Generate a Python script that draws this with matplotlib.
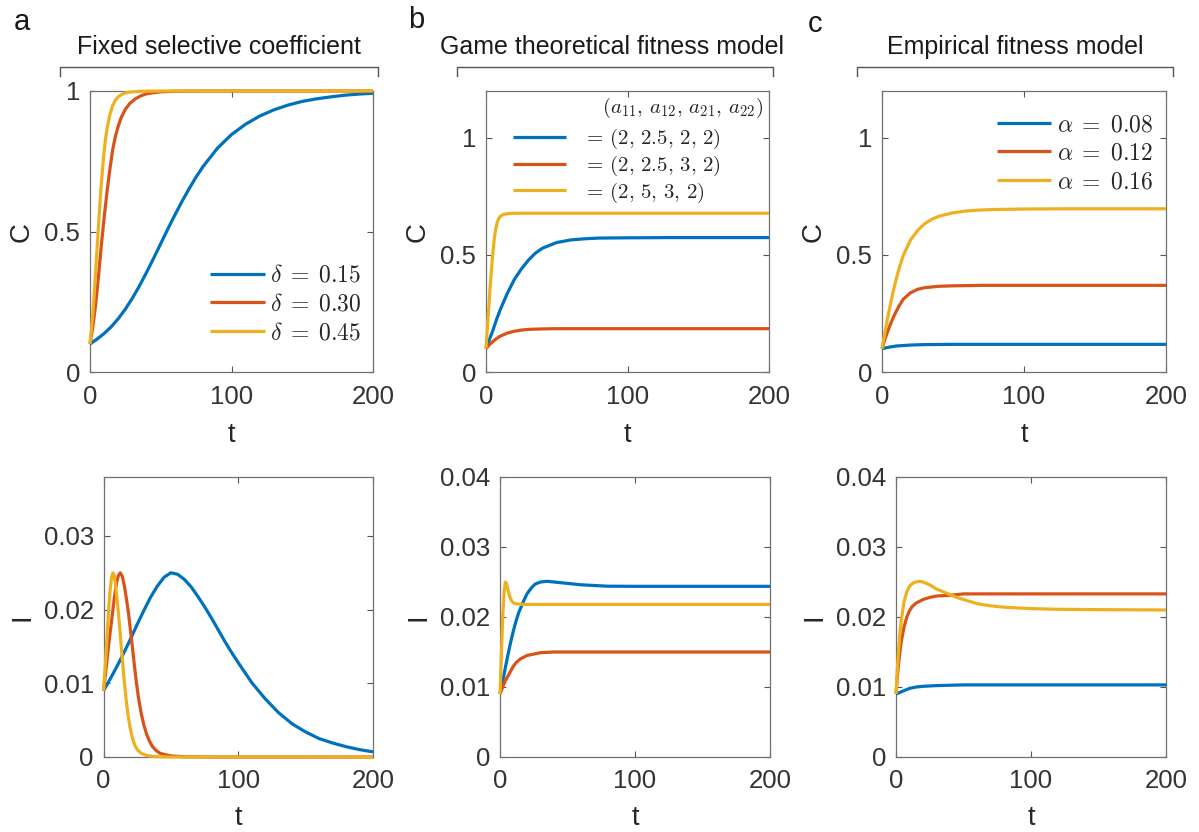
import matplotlib
matplotlib.use('Agg')
import matplotlib.pyplot as plt
from matplotlib.lines import Line2D

plt.rcParams['font.family'] = ['Liberation Sans', 'DejaVu Sans']
plt.rcParams['mathtext.fontset'] = 'cm'

# ---------------- data ----------------
# Panel a: fixed selective coefficient
a_blue_tC = [0, 5, 10, 15, 20, 25, 30, 35, 40, 45, 50, 55, 60, 65, 70, 75, 80, 90, 100,
             110, 120, 130, 140, 150, 160, 170, 180, 190, 200]
a_blue_C = [0.100, 0.117, 0.137, 0.161, 0.190, 0.224, 0.263, 0.307, 0.355, 0.405, 0.457,
            0.509, 0.559, 0.607, 0.652, 0.694, 0.732, 0.796, 0.845, 0.882, 0.911, 0.933,
            0.950, 0.963, 0.972, 0.979, 0.985, 0.989, 0.992]
a_blue_tI = [0, 5, 10, 15, 20, 25, 30, 35, 40, 45, 50, 55, 60, 65, 70, 75, 80, 85, 90, 95,
             100, 110, 120, 130, 140, 150, 160, 170, 180, 190, 200]
a_blue_I = [0.0090, 0.0106, 0.0123, 0.0141, 0.0160, 0.0180, 0.0199, 0.0217, 0.0232, 0.0244,
            0.0250, 0.0248, 0.0241, 0.0231, 0.0218, 0.0204, 0.0189, 0.0173, 0.0157, 0.0142,
            0.0128, 0.0101, 0.0079, 0.0060, 0.0045, 0.0034, 0.0025, 0.0019, 0.0014, 0.0010,
            0.0007]

a_red_tC = [0, 2, 4, 6, 8, 10, 12, 14, 16, 18, 20, 22, 25, 28, 32, 36, 40, 45, 50, 60, 80, 100, 150, 200]
a_red_C = [0.10, 0.16, 0.24, 0.34, 0.45, 0.55, 0.64, 0.72, 0.79, 0.84, 0.875, 0.905, 0.935,
           0.955, 0.972, 0.983, 0.990, 0.994, 0.997, 0.999, 1.0, 1.0, 1.0, 1.0]
a_red_tI = [0, 1, 2, 3, 4, 5, 6, 7, 8, 9, 10, 11, 12.4, 14, 15.5, 17, 18.5, 20, 21.5, 23,
            24.5, 26, 28, 30, 32, 34, 36, 39, 42, 46, 50, 60, 80, 100, 150, 200]
a_red_I = [0.0090, 0.0105, 0.0122, 0.0138, 0.0155, 0.0170, 0.0185, 0.0200, 0.0215, 0.0229,
           0.0239, 0.0246, 0.0250, 0.0245, 0.0232, 0.0215, 0.0196, 0.0172, 0.0148, 0.0123,
           0.0100, 0.0080, 0.0059, 0.0043, 0.0031, 0.0022, 0.0015, 0.0009, 0.0005, 0.0003,
           0.00015, 0.00003, 0, 0, 0, 0]

a_yel_tC = [0, 1, 2, 3, 4, 5, 6, 7, 8, 9, 10, 11, 12, 14, 16, 18, 20, 24, 28, 35, 50, 100, 200]
a_yel_C = [0.10, 0.15, 0.21, 0.28, 0.36, 0.44, 0.52, 0.60, 0.67, 0.73, 0.785, 0.83, 0.865,
           0.915, 0.948, 0.968, 0.980, 0.992, 0.996, 0.999, 1.0, 1.0, 1.0]
a_yel_tI = [0, 1, 2, 3, 4, 5, 6, 7, 8, 9, 10, 11, 12, 13, 14, 15, 16, 17, 18, 19.5, 21, 23,
            25, 28, 32, 38, 50, 100, 200]
a_yel_I = [0.0090, 0.0115, 0.0145, 0.0175, 0.0205, 0.0228, 0.0244, 0.0250, 0.0246, 0.0233,
           0.0215, 0.0197, 0.0176, 0.0154, 0.0132, 0.0111, 0.0092, 0.0075, 0.0060, 0.0042,
           0.0029, 0.0017, 0.0010, 0.0005, 0.0002, 0.00005, 0, 0, 0]

# Panel b: game theoretical fitness model
b_blue_tC = [0, 2.5, 5, 7.5, 10, 12.5, 15, 20, 25, 30, 35, 40, 50, 60, 70, 80, 100, 130, 160, 200]
b_blue_C = [0.10, 0.14, 0.18, 0.225, 0.265, 0.30, 0.335, 0.395, 0.44, 0.478, 0.508, 0.529,
            0.553, 0.564, 0.569, 0.572, 0.573, 0.574, 0.574, 0.574]
b_red_tC = [0, 2.5, 5, 7.5, 10, 15, 20, 25, 30, 40, 50, 60, 80, 200]
b_red_C = [0.10, 0.117, 0.131, 0.143, 0.153, 0.166, 0.174, 0.179, 0.182, 0.184, 0.185,
           0.185, 0.185, 0.185]
b_yel_tC = [0, 1, 2, 3, 4, 5, 6, 7, 8, 9, 10, 12, 15, 20, 30, 200]
b_yel_C = [0.10, 0.19, 0.28, 0.37, 0.45, 0.52, 0.575, 0.615, 0.64, 0.655, 0.664, 0.672,
           0.676, 0.678, 0.678, 0.678]

b_blue_tI = [0, 2, 4, 6, 8, 10, 12, 14, 16, 18, 20, 23, 26, 30, 35, 40, 50, 60, 70, 80, 100, 200]
b_blue_I = [0.0090, 0.0108, 0.0128, 0.0147, 0.0165, 0.0181, 0.0195, 0.0207, 0.0216, 0.0225,
            0.0233, 0.0241, 0.0247, 0.0250, 0.0251, 0.0250, 0.0248, 0.0246, 0.0245, 0.0244,
            0.02438, 0.02438]
b_red_tI = [0, 2, 4, 6, 8, 10, 12, 15, 20, 25, 30, 40, 60, 200]
b_red_I = [0.0090, 0.0100, 0.0109, 0.0116, 0.0123, 0.0130, 0.0135, 0.0140, 0.0145, 0.0147,
           0.0149, 0.0150, 0.0150, 0.0150]
b_yel_tI = [0, 1, 2, 3, 4, 5, 6, 7, 8, 9, 10, 12, 15, 20, 200]
b_yel_I = [0.0090, 0.0145, 0.0200, 0.0236, 0.0250, 0.0247, 0.0238, 0.0230, 0.0225, 0.0222,
           0.0220, 0.0219, 0.0218, 0.0218, 0.0218]

# Panel c: empirical fitness model
c_blue_tC = [0, 5, 10, 20, 30, 50, 200]
c_blue_C = [0.100, 0.106, 0.111, 0.115, 0.117, 0.118, 0.118]
c_red_tC = [0, 2.5, 5, 7.5, 10, 12.5, 15, 20, 25, 30, 40, 50, 70, 200]
c_red_C = [0.10, 0.148, 0.19, 0.227, 0.259, 0.287, 0.311, 0.338, 0.353, 0.360, 0.366,
           0.368, 0.370, 0.370]
c_yel_tC = [0, 2.5, 5, 7.5, 10, 12.5, 15, 20, 25, 30, 35, 40, 50, 60, 70, 80, 100, 130, 200]
c_yel_C = [0.10, 0.183, 0.262, 0.334, 0.397, 0.452, 0.498, 0.563, 0.604, 0.633, 0.652,
           0.665, 0.680, 0.688, 0.692, 0.694, 0.696, 0.697, 0.697]

c_blue_tI = [0, 5, 10, 15, 20, 30, 50, 200]
c_blue_I = [0.0090, 0.0094, 0.0098, 0.0100, 0.0101, 0.0102, 0.0103, 0.0103]
c_red_tI = [0, 1, 2, 3, 4, 6, 8, 10, 12, 15, 20, 25, 30, 40, 50, 70, 200]
c_red_I = [0.0090, 0.0115, 0.0135, 0.0152, 0.0166, 0.0186, 0.0200, 0.0209, 0.0215, 0.0220,
           0.0225, 0.0228, 0.0230, 0.0231, 0.0233, 0.0233, 0.0233]
c_yel_tI = [0, 1, 2, 3, 4, 6, 8, 10, 13, 17, 20, 25, 30, 35, 40, 45, 50, 60, 70, 80, 100,
            120, 150, 200]
c_yel_I = [0.0090, 0.0125, 0.0155, 0.0180, 0.0197, 0.0222, 0.0236, 0.0244, 0.0249, 0.0251,
           0.0250, 0.0246, 0.0240, 0.0236, 0.0232, 0.0228, 0.0225, 0.0219, 0.0216, 0.0214,
           0.0212, 0.0211, 0.02105, 0.0210]

legend_a = [r'$\delta \;=\; 0.15$', r'$\delta \;=\; 0.30$', r'$\delta \;=\; 0.45$']
legend_b = [r'$=\,(2,\,2.5,\,2,\,2)$', r'$=\,(2,\,2.5,\,3,\,2)$', r'$=\,(2,\,5,\,3,\,2)$']
legend_b_header = r'$(a_{11},\,a_{12},\,a_{21},\,a_{22})$'
legend_c = [r'$\alpha \;=\; 0.08$', r'$\alpha \;=\; 0.12$', r'$\alpha \;=\; 0.16$']
titles = ['Fixed selective coefficient', 'Game theoretical fitness model', 'Empirical fitness model']
letters = ['a', 'b', 'c']
x_ticks = [0, 100, 200]
x_ticklabels = ['0', '100', '200']
C_ticks = [0, 0.5, 1]
C_ticklabels = ['0', '0.5', '1']
I_ticks_a = [0, 0.01, 0.02, 0.03]
I_ticklabels_a = ['0', '0.01', '0.02', '0.03']
I_ticks_bc = [0, 0.01, 0.02, 0.03, 0.04]
I_ticklabels_bc = ['0', '0.01', '0.02', '0.03', '0.04']

# ---------------- styling ----------------
BLUE, RED, YEL = '#0072BD', '#D95319', '#EDB120'
LW = 2.3
TXT = '#262626'
W, H = 1199, 832
fig = plt.figure(figsize=(W / 100, H / 100), dpi=100)


def px_axes(l, t, r, b):
    return fig.add_axes([l / W, 1 - b / H, (r - l) / W, (b - t) / H])


def style(ax, ylim, yticks, yticklabels, ylabel, ylab_x, xlab_y):
    ax.set_xlim(0, 200)
    ax.set_ylim(*ylim)
    ax.set_xticks(x_ticks)
    ax.set_xticklabels(x_ticklabels)
    ax.set_yticks(yticks)
    ax.set_yticklabels(yticklabels)
    ax.tick_params(direction='in', length=4, width=0.8, color='#555555',
                   labelsize=18.5, labelcolor='#333333', top=True, right=True)
    ax.tick_params(axis='x', pad=9)
    ax.tick_params(axis='y', pad=7)
    for s in ax.spines.values():
        s.set_color('#707070')
        s.set_linewidth(0.9)
    ax.set_xlabel('t', fontsize=19.5, color=TXT)
    ax.set_ylabel(ylabel, fontsize=20, color=TXT)
    ax.xaxis.set_label_coords(0.5, xlab_y)
    ax.xaxis.label.set_va('center')
    ax.yaxis.set_label_coords(ylab_x, 0.5)
    ax.yaxis.label.set_va('center')


def plot3(ax, series, labels=None):
    cols = [BLUE, RED, YEL]
    for i, (t, y) in enumerate(series):
        lab = labels[i] if labels else None
        ax.plot(t, y, color=cols[i], lw=LW, clip_on=False, label=lab,
                solid_capstyle='butt', zorder=3 + i)


# top row
axA = px_axes(90, 91, 373, 372)
axB = px_axes(486, 91, 769, 372)
axC = px_axes(882, 91, 1166, 372)
# bottom row
axD = px_axes(103.5, 477, 373, 757)
axE = px_axes(500, 477, 770, 757)
axF = px_axes(896, 477, 1166, 757)

plot3(axA, [(a_blue_tC, a_blue_C), (a_red_tC, a_red_C), (a_yel_tC, a_yel_C)], legend_a)
plot3(axB, [(b_blue_tC, b_blue_C), (b_red_tC, b_red_C), (b_yel_tC, b_yel_C)], legend_b)
plot3(axC, [(c_blue_tC, c_blue_C), (c_red_tC, c_red_C), (c_yel_tC, c_yel_C)], legend_c)
plot3(axD, [(a_blue_tI, a_blue_I), (a_red_tI, a_red_I), (a_yel_tI, a_yel_I)])
plot3(axE, [(b_blue_tI, b_blue_I), (b_red_tI, b_red_I), (b_yel_tI, b_yel_I)])
plot3(axF, [(c_blue_tI, c_blue_I), (c_red_tI, c_red_I), (c_yel_tI, c_yel_I)])

style(axA, (0, 1), C_ticks, C_ticklabels, 'C', (22 - 90) / 283, (372 - 435) / 281)
style(axB, (0, 1.2), C_ticks, C_ticklabels, 'C', (418 - 486) / 283, (372 - 435) / 281)
style(axC, (0, 1.2), C_ticks, C_ticklabels, 'C', (814 - 882) / 284, (372 - 435) / 281)
style(axD, (0, 0.038), I_ticks_a, I_ticklabels_a, 'I', (22 - 103.5) / 270, (757 - 818) / 280)
style(axE, (0, 0.04), I_ticks_bc, I_ticklabels_bc, 'I', (418 - 500) / 270, (757 - 818) / 280)
style(axF, (0, 0.04), I_ticks_bc, I_ticklabels_bc, 'I', (814 - 896) / 270, (757 - 818) / 280)

leg_kw = dict(frameon=False, fontsize=17, handlelength=2.3, handletextpad=0.25,
              labelspacing=0.28, borderpad=0, borderaxespad=0, labelcolor=TXT)
axA.legend(loc='lower right', bbox_to_anchor=((362 - 90) / 283, (372 - 344) / 281), **leg_kw)
kwb = dict(leg_kw)
kwb.update(fontsize=15, handlelength=2.55, handletextpad=0.8, labelspacing=0.13)
axB.legend(loc='upper left', bbox_to_anchor=((513 - 486) / 283, (372 - 127) / 281), **kwb)
axB.text((763 - 486) / 283, (372 - 108) / 281, legend_b_header, transform=axB.transAxes,
         ha='right', va='center', fontsize=15, color=TXT)
axC.legend(loc='upper right', bbox_to_anchor=((1153 - 882) / 284, (372 - 114) / 281), **leg_kw)

# titles, brackets, panel letters
title_x = [219, 612, 1015]
bracket = [(60, 378), (457, 773), (857, 1173)]
letter_xy = [(22, 22), (416, 20), (815, 24)]
for i in range(3):
    fig.text(title_x[i] / W, 1 - 47 / H, titles[i], ha='center', va='center',
             fontsize=18, color='#1a1a1a')
    x0, x1 = bracket[i]
    fig.add_artist(Line2D([x0 / W, x0 / W, x1 / W, x1 / W],
                          [1 - 76 / H, 1 - 67 / H, 1 - 67 / H, 1 - 76 / H],
                          color='#555555', lw=1.0))
    lx, ly = letter_xy[i]
    fig.text(lx / W, 1 - ly / H, letters[i], ha='center', va='center',
             fontsize=21, color='#1a1a1a')

fig.savefig('out.png', dpi=100)
